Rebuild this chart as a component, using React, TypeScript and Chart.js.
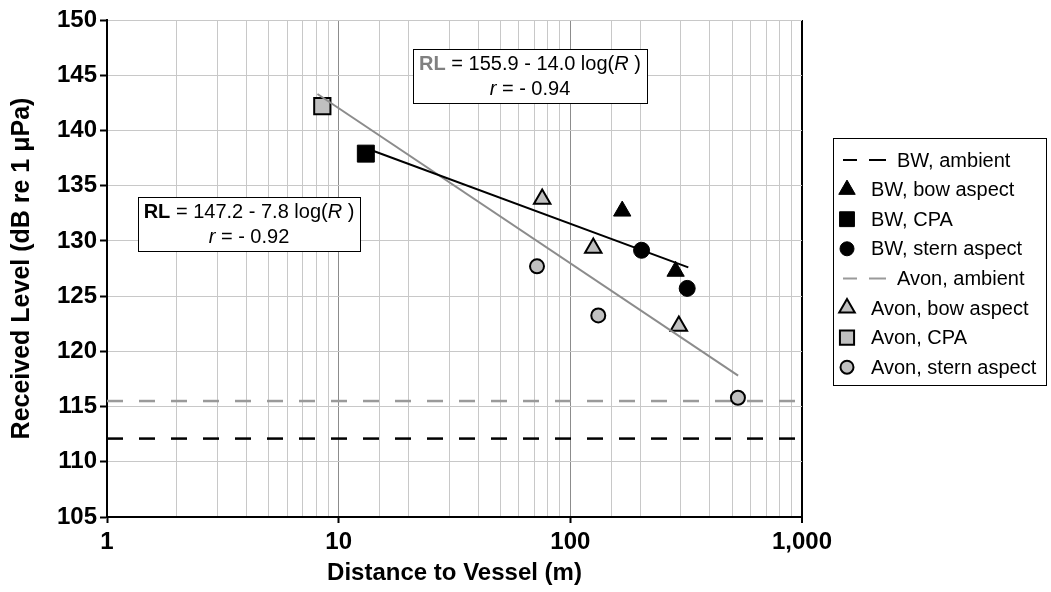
import React, { useEffect, useRef } from "react";
import { Chart, registerables } from "chart.js";

Chart.register(...registerables);

// ---------- data ----------
const seriesNames = [
  "BW, ambient",
  "BW, bow aspect",
  "BW, CPA",
  "BW, stern aspect",
  "Avon, ambient",
  "Avon, bow aspect",
  "Avon, CPA",
  "Avon, stern aspect",
];

const xRange = [1, 1000];
const yMin = 105;
const yMax = 150;
const yStep = 5;
const xMajorTicks = [1, 10, 100, 1000];

const bwAmbientLevel = [112.1, 112.1];
const avonAmbientLevel = [115.5, 115.5];

const bwBowX = [167.5, 284.7];
const bwBowY = [132.7, 127.25];
const bwCpaX = [13.1];
const bwCpaY = [137.9];
const bwSternX = [203, 319.5];
const bwSternY = [129.15, 125.7];

const avonBowX = [75.6, 125.6, 294];
const avonBowY = [133.8, 129.35, 122.3];
const avonCpaX = [8.5];
const avonCpaY = [142.2];
const avonSternX = [71.8, 132, 529];
const avonSternY = [127.7, 123.25, 115.8];

const bwTrendX = [13.5, 323];
const bwTrendY = [138.3, 127.6];
const avonTrendX = [8.1, 530];
const avonTrendY = [143.3, 117.8];

const bwEquation = { rl: "147.2", slope: "7.8", r: "0.92" };
const avonEquation = { rl: "155.9", slope: "14.0", r: "0.94" };

// ---------- helpers ----------
const zip = (xs: number[], ys: number[]) => xs.map((x, i) => ({ x, y: ys[i] }));
const isMajor = (v: number) => Math.abs(Math.log10(v) - Math.round(Math.log10(v))) < 1e-9;

const FONT = "'Liberation Sans', Arial, sans-serif";
const GRAY_FILL = "#c0c0c0";
const AVON_LINE = "#8c8c8c";
const AVON_DASH = "#9a9a9a";

type Seg = { text: string; font: string; color: string };

function drawRich(ctx: CanvasRenderingContext2D, segs: Seg[], cx: number, cy: number) {
  let total = 0;
  const widths = segs.map((s) => {
    ctx.font = s.font;
    const w = ctx.measureText(s.text).width;
    total += w;
    return w;
  });
  let x = cx - total / 2;
  ctx.textBaseline = "middle";
  ctx.textAlign = "left";
  segs.forEach((s, i) => {
    ctx.font = s.font;
    ctx.fillStyle = s.color;
    ctx.fillText(s.text, x, cy);
    x += widths[i];
  });
}

function equationSegs(eq: { rl: string; slope: string }, rlColor: string): Seg[] {
  const n = `20px ${FONT}`;
  return [
    { text: "RL", font: `bold 20px ${FONT}`, color: rlColor },
    { text: ` = ${eq.rl} - ${eq.slope} log(`, font: n, color: "#000" },
    { text: "R", font: `italic 20px ${FONT}`, color: "#000" },
    { text: " )", font: n, color: "#000" },
  ];
}
function rSegs(eq: { r: string }): Seg[] {
  return [
    { text: "r", font: `italic 20px ${FONT}`, color: "#000" },
    { text: ` = - ${eq.r}`, font: `20px ${FONT}`, color: "#000" },
  ];
}

function drawBox(
  ctx: CanvasRenderingContext2D,
  x0: number,
  y0: number,
  x1: number,
  y1: number,
  eq: { rl: string; slope: string; r: string },
  rlColor: string
) {
  ctx.save();
  ctx.fillStyle = "#fff";
  ctx.fillRect(x0, y0, x1 - x0, y1 - y0);
  ctx.strokeStyle = "#000";
  ctx.lineWidth = 1;
  ctx.setLineDash([]);
  ctx.strokeRect(x0 + 0.5, y0 + 0.5, x1 - x0, y1 - y0);
  const cx = (x0 + x1) / 2;
  drawRich(ctx, equationSegs(eq, rlColor), cx, y0 + 15);
  drawRich(ctx, rSegs(eq), cx, y0 + 40);
  ctx.restore();
}

function drawMarker(
  ctx: CanvasRenderingContext2D,
  style: string,
  x: number,
  y: number,
  r: number,
  fill: string,
  stroke: string,
  lw: number
) {
  ctx.beginPath();
  if (style === "triangle") {
    ctx.moveTo(x, y - r);
    ctx.lineTo(x + r * Math.sin(Math.PI / 3), y + r / 2);
    ctx.lineTo(x - r * Math.sin(Math.PI / 3), y + r / 2);
    ctx.closePath();
  } else if (style === "rect") {
    const s = r * Math.SQRT1_2;
    ctx.rect(x - s, y - s, 2 * s, 2 * s);
  } else {
    ctx.arc(x, y, r, 0, Math.PI * 2);
  }
  ctx.fillStyle = fill;
  ctx.fill();
  ctx.lineWidth = lw;
  ctx.strokeStyle = stroke;
  ctx.stroke();
}

const legendStyles = [
  { kind: "line", color: "#000" },
  { kind: "triangle", fill: "#000", r: 9.5 },
  { kind: "rect", fill: "#000", r: 10.5 },
  { kind: "circle", fill: "#000", r: 7 },
  { kind: "line", color: AVON_DASH },
  { kind: "triangle", fill: GRAY_FILL, r: 9 },
  { kind: "rect", fill: GRAY_FILL, r: 10 },
  { kind: "circle", fill: GRAY_FILL, r: 6.5 },
];

const overlayPlugin = {
  id: "overlay",
  afterDraw(chart: any) {
    const ctx: CanvasRenderingContext2D = chart.ctx;
    // equation boxes
    drawBox(ctx, 413, 49, 647, 103, avonEquation, "#808080");
    drawBox(ctx, 138, 197, 360, 251, bwEquation, "#000");

    // legend
    ctx.save();
    ctx.fillStyle = "#fff";
    ctx.fillRect(833, 138, 213, 247);
    ctx.strokeStyle = "#000";
    ctx.lineWidth = 1;
    ctx.strokeRect(833.5, 138.5, 213, 247);
    seriesNames.forEach((name, i) => {
      const y = 160 + i * 29.6;
      const st: any = legendStyles[i];
      let tx = 871;
      if (st.kind === "line") {
        ctx.strokeStyle = st.color;
        ctx.lineWidth = 2;
        ctx.beginPath();
        ctx.moveTo(843, y);
        ctx.lineTo(857, y);
        ctx.moveTo(869, y);
        ctx.lineTo(886, y);
        ctx.stroke();
        tx = 897;
      } else {
        drawMarker(ctx, st.kind, 847, y, st.r, st.fill, "#000", st.fill === "#000" ? 1 : 2);
      }
      ctx.fillStyle = "#000";
      ctx.font = `20px ${FONT}`;
      ctx.textAlign = "left";
      ctx.textBaseline = "middle";
      ctx.fillText(name, tx, y + 1);
    });
    ctx.restore();
  },
};

export default function App() {
  const ref = useRef<HTMLCanvasElement | null>(null);

  useEffect(() => {
    if (!ref.current) return;
    const chart = new Chart(ref.current, {
      type: "scatter",
      data: {
        datasets: [
          {
            label: "BW trend",
            data: zip(bwTrendX, bwTrendY),
            showLine: true,
            borderColor: "#000",
            borderWidth: 2,
            pointRadius: 0,
            order: 0,
          },
          {
            label: "Avon trend",
            data: zip(avonTrendX, avonTrendY),
            showLine: true,
            borderColor: AVON_LINE,
            borderWidth: 2,
            pointRadius: 0,
            order: 0,
          },
          {
            label: seriesNames[1],
            data: zip(bwBowX, bwBowY),
            pointStyle: "triangle",
            pointRadius: 10,
            backgroundColor: "#000",
            borderColor: "#000",
            borderWidth: 1,
            order: 1,
          },
          {
            label: seriesNames[2],
            data: zip(bwCpaX, bwCpaY),
            pointStyle: "rect",
            pointRadius: 12,
            backgroundColor: "#000",
            borderColor: "#000",
            borderWidth: 1,
            order: 1,
          },
          {
            label: seriesNames[3],
            data: zip(bwSternX, bwSternY),
            pointStyle: "circle",
            pointRadius: 8,
            backgroundColor: "#000",
            borderColor: "#000",
            borderWidth: 1,
            order: 1,
          },
          {
            label: seriesNames[5],
            data: zip(avonBowX, avonBowY),
            pointStyle: "triangle",
            pointRadius: 9.5,
            backgroundColor: GRAY_FILL,
            borderColor: "#000",
            borderWidth: 2,
            order: 1,
          },
          {
            label: seriesNames[6],
            data: zip(avonCpaX, avonCpaY),
            pointStyle: "rect",
            pointRadius: 11.5,
            backgroundColor: GRAY_FILL,
            borderColor: "#000",
            borderWidth: 2,
            order: 1,
          },
          {
            label: seriesNames[7],
            data: zip(avonSternX, avonSternY),
            pointStyle: "circle",
            pointRadius: 7,
            backgroundColor: GRAY_FILL,
            borderColor: "#000",
            borderWidth: 2,
            order: 1,
          },
          {
            label: seriesNames[0],
            data: zip(xRange, bwAmbientLevel),
            showLine: true,
            borderColor: "#000",
            borderWidth: 2.5,
            borderDash: [16, 16],
            pointRadius: 0,
            order: 2,
          },
          {
            label: seriesNames[4],
            data: zip(xRange, avonAmbientLevel),
            showLine: true,
            borderColor: AVON_DASH,
            borderWidth: 2.5,
            borderDash: [16, 16],
            pointRadius: 0,
            order: 2,
          },
        ],
      },
      options: {
        animation: false,
        responsive: true,
        maintainAspectRatio: false,
        layout: { padding: { left: 0, right: 249, top: 20, bottom: 0 } },
        plugins: {
          legend: { display: false },
          tooltip: { enabled: false },
        },
        scales: {
          x: {
            type: "logarithmic",
            min: xRange[0],
            max: xRange[1],
            afterFit: (s: any) => {
              s.height = 75;
            },
            border: { color: "#000", width: 2 },
            grid: {
              color: (c: any) => {
                const v = c.tick?.value;
                if (v === xRange[1]) return "#000";
                return v && isMajor(v) ? "#8c8c8c" : "#c8c8c8";
              },
              lineWidth: (c: any) => (c.tick?.value === xRange[1] ? 2 : 1),
              tickColor: (c: any) => (c.tick && isMajor(c.tick.value) ? "#000" : "rgba(0,0,0,0)"),
              tickLength: 6,
              tickWidth: 2,
            },
            ticks: {
              autoSkip: false,
              maxRotation: 0,
              padding: 5,
              color: "#000",
              font: { family: FONT, size: 24, weight: "bold" },
              callback: (v: any) => {
                const n = Number(v);
                return xMajorTicks.includes(n) ? n.toLocaleString("en-US") : "";
              },
            },
            title: {
              display: true,
              text: "Distance to Vessel (m)",
              color: "#000",
              font: { family: FONT, size: 24, weight: "bold" },
              padding: { top: 0, bottom: 4 },
            },
          },
          y: {
            type: "linear",
            min: yMin,
            max: yMax,
            afterFit: (s: any) => {
              s.width = 107;
            },
            border: { color: "#000", width: 2 },
            grid: {
              color: "#c8c8c8",
              lineWidth: 1,
              tickColor: "#000",
              tickLength: 7,
              tickWidth: 2,
            },
            ticks: {
              stepSize: yStep,
              padding: 3,
              color: "#000",
              font: { family: FONT, size: 24, weight: "bold" },
            },
            title: {
              display: true,
              text: "Received Level (dB re 1 μPa)",
              color: "#000",
              font: { family: FONT, size: 25, weight: "bold" },
              padding: { top: 7, bottom: 0 },
            },
          },
        },
      },
      plugins: [overlayPlugin],
    });
    return () => chart.destroy();
  }, []);

  return (
    <div style={{ position: "absolute", left: 0, top: 0, width: 1051, height: 592, background: "#fff" }}>
      <canvas ref={ref} />
    </div>
  );
}
